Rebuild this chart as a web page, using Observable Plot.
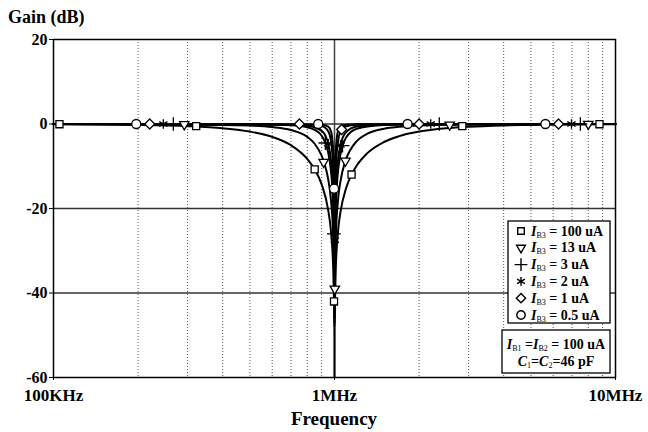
<!DOCTYPE html>
<html><head><meta charset="utf-8">
<script src="https://cdn.jsdelivr.net/npm/d3@7"></script>
<script src="https://cdn.jsdelivr.net/npm/@observablehq/plot@0.6"></script>
<style>
body{margin:0;background:#fff;}
#chart{position:relative;width:648px;height:432px;}
</style></head><body><div id="chart"></div>
<script>
// Frequencies in MHz, gains in dB
const f100 = [0.1,0.15,0.2,0.3,0.4,0.5,0.6,0.7,0.8,0.85,0.9,0.95,0.97,0.99,0.995,1.0,1.005,1.01,1.03,1.05,1.1,1.15,1.2,1.3,1.5,1.7,2,2.5,3,4,5,7,10];
const g100 = [-0.05,-0.12,-0.21,-0.51,-1.01,-1.80,-3.04,-5.02,-8.27,-10.74,-14.30,-20.44,-24.95,-34.57,-40.6,-46,-40.65,-34.65,-25.21,-20.87,-15.15,-11.96,-9.82,-7.08,-4.26,-2.87,-1.80,-1.01,-0.65,-0.34,-0.21,-0.10,-0.05];
const f13 = [0.1,0.3,0.5,0.6,0.7,0.8,0.85,0.9,0.92,0.95,0.97,0.99,0.995,1.0,1.005,1.01,1.03,1.05,1.09,1.1,1.2,1.3,1.5,1.7,2,3,5,10];
const g13 = [-0.01,-0.10,-0.38,-0.73,-1.43,-3.05,-4.68,-7.51,-9.25,-13.14,-17.54,-27.09,-33.13,-48,-33.17,-27.18,-17.79,-13.56,-9.0,-8.24,-4.04,-2.39,-1.13,-0.67,-0.38,-0.13,-0.04,-0.01];
const f3 = [0.1,0.5,0.7,0.8,0.85,0.9,0.93,0.95,0.97,0.98,0.99,0.995,1.0,1.005,1.01,1.02,1.03,1.05,1.07,1.1,1.2,1.5,2,10];
const g3 = [0,-0.08,-0.32,-0.78,-1.38,-2.78,-4.62,-6.81,-10.71,-14.07,-20.0,-26.01,-44,-26.06,-20.09,-14.23,-10.95,-7.16,-5.03,-3.22,-1.13,-0.24,-0.08,0];
const f2 = [0.1,0.7,0.8,0.9,0.94,0.95,0.97,0.98,0.99,0.995,0.997,1.0,1.003,1.005,1.01,1.02,1.03,1.05,1.1,1.2,1.5,10];
const g2 = [0,-0.16,-0.42,-1.64,-3.68,-4.68,-8.13,-11.30,-17.12,-23.1,-27.53,-46,-27.56,-23.15,-17.2,-11.46,-8.35,-4.97,-1.93,-0.61,-0.13,0];
const f1 = [0.1,0.8,0.9,0.95,0.97,0.98,0.99,0.995,0.998,1.0,1.002,1.005,1.01,1.02,1.03,1.05,1.1,1.2,1.5,10];
const g1 = [0,-0.11,-0.47,-1.72,-3.75,-6.15,-11.34,-17.14,-25.04,-47,-25.06,-17.18,-11.42,-6.29,-3.91,-1.86,-0.57,-0.16,-0.03,0];
const f05 = [0.1,0.9,0.95,0.97,0.98,0.99,0.995,0.998,0.999,1.0,1.001,1.002,1.005,1.01,1.02,1.03,1.05,1.1,1.2,10];
const g05 = [0,-0.15,-0.61,-1.56,-2.97,-6.95,-12.28,-20.03,-26.03,-60,-26.05,-20.05,-12.33,-7.02,-3.05,-1.64,-0.67,-0.19,-0.05,0];

// Marker positions
const m100F = [0.105,0.322,0.85,0.996,1.15,2.85,8.77];
const m100G = [-0.05,-0.5,-10.74,-42,-11.96,-0.5,-0.05];
const m13F = [0.292,0.915,1.0026,1.094,2.57,8.0];
const m13G = [-0.1,-9.0,-39,-8.7,-0.2,0];
const m3F = [0.267,0.928,0.995,1.068,2.36,7.5];
const m3G = [0,-4.5,-26,-5.1,0,0];
const m2F = [0.246,0.95,1.003,1.05,2.2,6.97];
const m2G = [0,-4.7,-27.5,-5.0,0,0];
const m1F = [0.22,0.75,1.06,2.0,6.27];
const m1G = [0,0,-1.3,0,0];
const m05F = [0.197,0.875,0.9965,1.82,5.63];
const m05G = [0,0,-15.3,0,0];

const currents = ["100","13","3","2","1","0.5"];
const symbols = ["square2","triangle2","plus","asterisk","diamond2","circle"];
const rotations = [0,180,0,0,0,0];

const xTicks = [0.1,1,10];
const xLabels = ["100KHz","1MHz","10MHz"];
const yTicks = [20,0,-20,-40,-60];
const gridY = [0,-20,-40];
const minorX = [0.2,0.3,0.4,0.5,0.6,0.7,0.8,0.9,2,3,4,5,6,7,8,9];

const curveF = [f100,f13,f3,f2,f1,f05];
const curveG = [g100,g13,g3,g2,g1,g05];
const markF = [m100F,m13F,m3F,m2F,m1F,m05F];
const markG = [m100G,m13G,m3G,m2G,m1G,m05G];

const lines = currents.flatMap((c,k)=>curveF[k].map((f,i)=>({s:c,f,g:curveG[k][i]})));
const pts = currents.flatMap((c,k)=>markF[k].map((f,i)=>({s:c,f,g:markG[k][i],symbol:symbols[k],rotate:rotations[k]})));

const serif = "'Liberation Serif','Times New Roman',serif";

const plot = Plot.plot({
  width:648,height:432,marginLeft:53,marginRight:33,marginTop:39,marginBottom:55,
  style:{fontFamily:serif,background:"#fff",color:"#000"},
  x:{type:"log",domain:[0.1,10]},
  y:{domain:[-60,20]},
  marks:[
    Plot.ruleX(minorX,{stroke:"#555",strokeDasharray:"1,2",strokeWidth:1}),
    Plot.ruleX([1],{stroke:"#444",strokeWidth:1.5}),
    Plot.ruleY(gridY,{stroke:"#333",strokeWidth:1.5}),
    Plot.line(lines,{x:"f",y:"g",z:"s",stroke:"#000",strokeWidth:2,curve:"monotone-x"}),
    Plot.dot(pts,{x:"f",y:"g",symbol:"symbol",rotate:"rotate",r:4.5,stroke:"#000",fill:"#fff",strokeWidth:1.3}),
    Plot.frame({stroke:"#000",strokeWidth:1.5}),
    Plot.axisY({ticks:yTicks,tickSize:4,tickPadding:2,fontSize:16,fontWeight:"bold",label:null,tickFormat:d=>String(d)}),
    Plot.axisX({ticks:xTicks,tickSize:3,tickPadding:8,fontSize:17,fontWeight:"bold",label:null,tickFormat:d=>xLabels[xTicks.indexOf(d)]})
  ]
});
document.getElementById("chart").appendChild(plot);

const svg = d3.select(plot);
svg.append("text").attr("x",8).attr("y",23).attr("text-anchor","start").attr("font-family",serif).attr("font-weight","bold").attr("font-size",18).attr("fill","#000").text("Gain (dB)");
svg.append("text").attr("x",334).attr("y",425).attr("text-anchor","middle").attr("font-family",serif).attr("font-weight","bold").attr("font-size",19).attr("fill","#000").text("Frequency");

// Legend box
const lg = svg.append("g").attr("font-family",serif).attr("fill","#000").attr("font-weight","bold");
lg.append("rect").attr("x",508).attr("y",221).attr("width",102).attr("height",102).attr("fill","#fff").attr("stroke","#000").attr("stroke-width",1.3);
const symMap = {square2:d3.symbolSquare2,triangle2:d3.symbolTriangle2,plus:d3.symbolPlus,asterisk:d3.symbolAsterisk,diamond2:d3.symbolDiamond2,circle:d3.symbolCircle};
currents.forEach((c,i)=>{
  const y = 231 + i*16.8;
  lg.append("path").attr("d",d3.symbol(symMap[symbols[i]], Math.PI*4.2*4.2)()).attr("transform",`translate(521,${y}) rotate(${rotations[i]})`).attr("fill","#fff").attr("stroke","#000").attr("stroke-width",1.4);
  const t = lg.append("text").attr("x",531).attr("y",y+4.5).attr("text-anchor","start").attr("font-size",14);
  t.append("tspan").attr("font-style","italic").text("I");
  t.append("tspan").attr("font-size",8).attr("font-weight","normal").attr("dy",2).text("B3");
  t.append("tspan").attr("dy",-2).text(` = ${c} uA`);
});

// Annotation box
lg.append("rect").attr("x",502).attr("y",330).attr("width",108).attr("height",43).attr("fill","#fff").attr("stroke","#000").attr("stroke-width",1.3);
const a1 = lg.append("text").attr("x",556).attr("y",349).attr("text-anchor","middle").attr("font-size",14);
a1.append("tspan").attr("font-style","italic").text("I");
a1.append("tspan").attr("font-size",8).attr("font-weight","normal").attr("dy",2).text("B1");
a1.append("tspan").attr("dy",-2).text(" =");
a1.append("tspan").attr("font-style","italic").text("I");
a1.append("tspan").attr("font-size",8).attr("font-weight","normal").attr("dy",2).text("B2");
a1.append("tspan").attr("dy",-2).text(" = 100 uA");
const a2 = lg.append("text").attr("x",556).attr("y",366).attr("text-anchor","middle").attr("font-size",14);
a2.append("tspan").attr("font-style","italic").text("C");
a2.append("tspan").attr("font-size",8).attr("font-weight","normal").attr("dy",2).text("1");
a2.append("tspan").attr("dy",-2).text("=");
a2.append("tspan").attr("font-style","italic").text("C");
a2.append("tspan").attr("font-size",8).attr("font-weight","normal").attr("dy",2).text("2");
a2.append("tspan").attr("dy",-2).text("=46 pF");
</script></body></html>
